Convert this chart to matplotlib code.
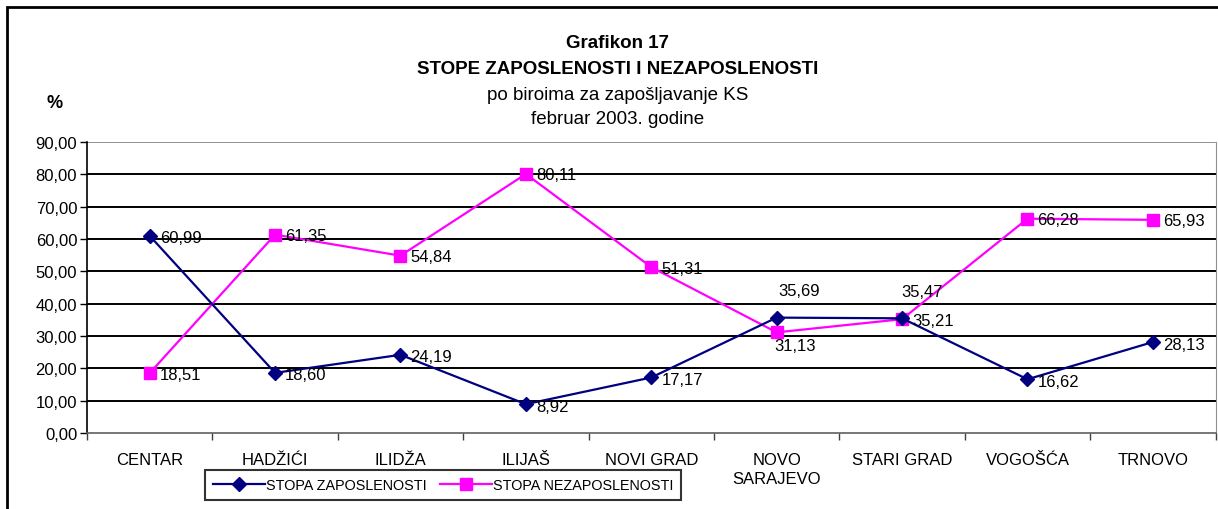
import matplotlib
matplotlib.use("Agg")
import matplotlib.pyplot as plt
from matplotlib.patches import Rectangle

plt.rcParams['font.family'] = ['Liberation Sans', 'DejaVu Sans']

categories = ["CENTAR", "HADŽIĆI", "ILIDŽA", "ILIJAŠ", "NOVI GRAD",
              "NOVO\nSARAJEVO", "STARI GRAD", "VOGOŠĆA", "TRNOVO"]
zaposlenost = [60.99, 18.60, 24.19, 8.92, 17.17, 35.69, 35.47, 16.62, 28.13]
nezaposlenost = [18.51, 61.35, 54.84, 80.11, 51.31, 31.13, 35.21, 66.28, 65.93]
yticks = [0, 10, 20, 30, 40, 50, 60, 70, 80, 90]

def fmt(v):
    return f"{v:.2f}".replace(".", ",")

fig = plt.figure(figsize=(12.18, 5.10), dpi=100)
ax = fig.add_axes([0.0714, 0.149, 0.9266, 0.5706])

x = list(range(len(categories)))
ax.plot(x, zaposlenost, color="#000080", lw=1.6, marker="D", ms=7.5,
        label="STOPA ZAPOSLENOSTI", zorder=4)
ax.plot(x, nezaposlenost, color="#FF00FF", lw=1.6, marker="s", ms=9,
        label="STOPA NEZAPOSLENOSTI", zorder=3)

ax.set_xlim(-0.5, len(categories) - 0.5)
ax.set_ylim(0, 90)
ax.set_yticks(yticks)
ax.set_yticklabels([fmt(v) for v in yticks], fontsize=12)
for v in yticks[1:-1]:
    ax.axhline(v, color="black", lw=1.4, zorder=1)
ax.axhline(90, color="#909090", lw=1.4, zorder=1)

ax.set_xticks(x)
ax.set_xticklabels(categories, fontsize=12, linespacing=1.3)
ax.set_xticks([i + 0.5 for i in range(-1, len(categories))], minor=True)
ax.tick_params(axis="x", which="major", length=0, pad=14)
ax.tick_params(axis="x", which="minor", length=5, width=1, color="#404040")
ax.tick_params(axis="y", length=5, width=1, pad=2)

ax.spines["top"].set_visible(False)
ax.spines["right"].set_color("#909090")
ax.spines["bottom"].set_color("#606060")
ax.spines["left"].set_color("black")
ax.spines["left"].set_linewidth(1.2)
ax.spines["bottom"].set_linewidth(1.2)

# data labels
zap_off = {5: (22, 27, "center"), 6: (20, 27, "center")}
for i, v in enumerate(zaposlenost):
    if i in zap_off:
        dx, dy, ha = zap_off[i]
    else:
        dx, dy, ha = 10, -2, "left"
    ax.annotate(fmt(v), (i, v), xytext=(dx, dy), textcoords="offset pixels",
                ha=ha, va="center", fontsize=12, zorder=6)
nez_off = {5: (18, -13, "center")}
for i, v in enumerate(nezaposlenost):
    if i in nez_off:
        dx, dy, ha = nez_off[i]
    else:
        dx, dy, ha = 10, -1, "left"
    ax.annotate(fmt(v), (i, v), xytext=(dx, dy), textcoords="offset pixels",
                ha=ha, va="center", fontsize=12, zorder=6)

# titles
fig.text(0.507, 1 - 44 / 510, "Grafikon 17", ha="center", va="center",
         fontsize=13.5, fontweight="bold")
fig.text(0.507, 1 - 70 / 510, "STOPE ZAPOSLENOSTI I NEZAPOSLENOSTI", ha="center",
         va="center", fontsize=13.5, fontweight="bold")
fig.text(0.507, 1 - 96 / 510, "po biroima za zapošljavanje KS", ha="center",
         va="center", fontsize=13.5)
fig.text(0.507, 1 - 119 / 510, "februar 2003. godine", ha="center",
         va="center", fontsize=13.5)
fig.text(55 / 1218, 1 - 104 / 510, "%", ha="center", va="center",
         fontsize=13, fontweight="bold")

leg = fig.legend(loc="center", bbox_to_anchor=(443 / 1218, 1 - 486 / 510),
                 ncol=2, fontsize=10.4, frameon=True, fancybox=False,
                 edgecolor="black", handlelength=3.6, handletextpad=0.1,
                 columnspacing=0.9, borderpad=0.55, borderaxespad=0,
                 markerscale=0.9)
leg.get_frame().set_linewidth(1.5)

# outer frame
fig.patches.append(Rectangle((7 / 1218, -0.05), 1.1, 1 - 8 / 510 + 0.05,
                             transform=fig.transFigure, fill=False,
                             edgecolor="black", lw=2))

fig.savefig("out.png", dpi=100)
